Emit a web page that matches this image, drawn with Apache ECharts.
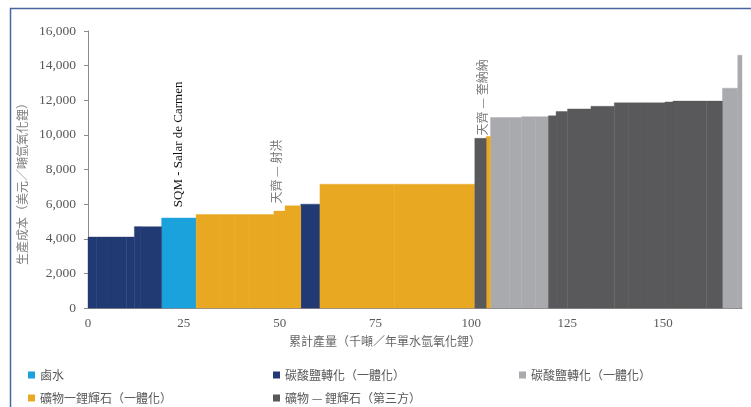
<!DOCTYPE html>
<html>
<head>
<meta charset="utf-8">
<script src="https://cdn.jsdelivr.net/npm/echarts@6/dist/echarts.min.js"></script>
<style>
html,body{margin:0;padding:0;background:#fff;}
#chart{width:751px;height:407px;}
</style>
</head>
<body>
<div id="chart"></div>
<script>
// Cost-curve segments: [cumulative start (kt), cumulative end (kt), cost (USD/t LiOH)]
const brine = [[19.2, 28.2, 5200]];
const carbonateIntegrated = [
  [0, 2.3, 4100], [2.3, 6.0, 4100], [6.0, 10.1, 4100], [10.1, 12.1, 4100],
  [12.1, 13.8, 4700], [13.8, 19.2, 4700],
  [55.5, 60.5, 6000]
];
const carbonateOther = [
  [105.0, 110.0, 11000], [110.0, 113.1, 11000], [113.1, 116.8, 11050], [116.8, 120.1, 11050],
  [165.5, 169.5, 12700], [169.5, 170.6, 14600]
];
const spodumeneIntegrated = [
  [28.2, 34.4, 5400], [34.4, 38.3, 5400], [38.3, 42.2, 5400], [42.2, 48.5, 5400],
  [48.5, 51.4, 5600], [51.4, 55.5, 5900],
  [60.5, 80.0, 7150], [80.0, 90.0, 7150], [90.0, 100.9, 7150],
  [103.9, 105.0, 9900]
];
const spodumeneThirdParty = [
  [100.9, 103.9, 9800],
  [120.1, 122.1, 11100], [122.1, 125.1, 11350], [125.1, 131.2, 11500], [131.2, 137.3, 11650],
  [137.3, 141.1, 11850], [141.1, 145.3, 11850], [145.3, 150.5, 11850],
  [150.5, 152.6, 11900], [152.6, 157.3, 11950], [157.3, 161.3, 11950], [161.3, 165.5, 11950]
];

const seriesNames = ['鹵水', '碳酸鹽轉化（一體化）', '碳酸鹽轉化（一體化）#2', '礦物一鋰輝石（一體化）', '礦物 — 鋰輝石（第三方）'];
const seriesColors = ['#1ba1dc', '#213a73', '#a9aaad', '#e8a822', '#59595b'];
const seriesData = [brine, carbonateIntegrated, carbonateOther, spodumeneIntegrated, spodumeneThirdParty];

// Annotations (x position in kt, base cost, text)
const annotX = [23.5, 49.2, 102.9];
const annotY = [5820, 6030, 9970];
const annotText = ['SQM - Salar de Carmen', '天齊 — 射洪', '天齊 — 奎納納'];

const xTicks = [0, 25, 50, 75, 100, 125, 150];
const yTicks = [0, 2000, 4000, 6000, 8000, 10000, 12000, 14000, 16000];

const chart = echarts.init(document.getElementById('chart'), null, {renderer: 'canvas'});

function renderBar(params, api) {
  const x0 = api.value(0), x1 = api.value(1), v = api.value(2);
  const p0 = api.coord([x0, v]);
  const p1 = api.coord([x1, 0]);
  const c = api.visual('color');
  return {
    type: 'rect',
    shape: {x: p0[0], y: p0[1], width: p1[0] - p0[0], height: p1[1] - p0[1]},
    style: {fill: c, stroke: c, lineWidth: 0.4}
  };
}

function renderAnnot(params, api) {
  const i = params.dataIndex;
  const p = api.coord([api.value(0), api.value(1)]);
  const isLatin = i === 0;
  return {
    type: 'text',
    x: p[0],
    y: p[1],
    rotation: Math.PI / 2,
    style: {
      text: annotText[i],
      fill: isLatin ? '#111' : '#7a7a7a',
      fontSize: isLatin ? 13 : 12,
      fontFamily: isLatin ? 'Liberation Serif' : 'Noto Sans CJK TC',
      align: 'left',
      verticalAlign: 'middle'
    }
  };
}

const series = seriesNames.map((name, k) => ({
  type: 'custom',
  name: name,
  renderItem: renderBar,
  itemStyle: {color: seriesColors[k]},
  encode: {x: [0, 1], y: 2},
  data: seriesData[k],
  silent: true,
  animation: false
}));
series.push({
  type: 'custom',
  name: 'annotations',
  renderItem: renderAnnot,
  encode: {x: 0, y: 1},
  data: annotX.map((x, i) => [x, annotY[i]]),
  silent: true,
  animation: false,
  z: 5
});

const legendLeft = [28, 273, 519, 28, 273];
const legendTop = [369, 369, 369, 392, 392];
const legends = seriesNames.map((name, k) => ({
  orient: 'horizontal',
  icon: 'rect',
  itemWidth: 7,
  itemHeight: 7,
  left: legendLeft[k],
  top: legendTop[k],
  padding: 0,
  selectedMode: false,
  data: [name],
  textStyle: {color: '#595959', fontSize: 12, fontFamily: 'Noto Sans CJK TC'},
  formatter: n => n.replace(/#\d+$/, '')
}));

chart.setOption({
  animation: false,
  backgroundColor: '#fff',
  grid: {left: 88, top: 31, width: 654, height: 277, containLabel: false},
  xAxis: {
    type: 'value',
    min: 0,
    max: 170.6,
    interval: 25,
    name: '累計產量（千噸／年單水氫氧化鋰）',
    nameLocation: 'middle',
    nameGap: 27,
    nameTextStyle: {color: '#666', fontSize: 12, fontFamily: 'Noto Sans CJK TC', padding: [0, 60, 0, 0]},
    axisLine: {show: true, lineStyle: {color: '#8c8c8c', width: 1}},
    axisTick: {show: false},
    splitLine: {show: false},
    axisLabel: {
      color: '#595959', fontSize: 13, fontFamily: 'Liberation Serif', margin: 9,
      showMaxLabel: false,
      formatter: v => (xTicks.indexOf(v) >= 0 ? String(v) : '')
    }
  },
  yAxis: {
    type: 'value',
    min: 0,
    max: 16000,
    interval: 2000,
    name: '生產成本（美元／噸氫氧化鋰）',
    nameLocation: 'middle',
    nameRotate: 90,
    nameGap: 60,
    nameTextStyle: {color: '#7f7f7f', fontSize: 12, fontFamily: 'Noto Sans CJK TC', padding: [0, 23, 0, 0]},
    axisLine: {show: true, lineStyle: {color: '#8c8c8c', width: 1}},
    axisTick: {show: true, length: 4, inside: false, lineStyle: {color: '#8c8c8c'}},
    splitLine: {show: false},
    axisLabel: {
      color: '#595959', fontSize: 13.5, fontFamily: 'Liberation Serif', margin: 12,
      formatter: v => (yTicks.indexOf(v) >= 0 ? v.toLocaleString('en-US') : '')
    }
  },
  legend: legends,
  graphic: [{
    type: 'rect',
    silent: true,
    shape: {x: 10.5, y: 8.5, width: 800, height: 450},
    style: {fill: 'none', stroke: '#4a64a0', lineWidth: 1.5},
    z: -1
  }],
  series: series
});
</script>
</body>
</html>
